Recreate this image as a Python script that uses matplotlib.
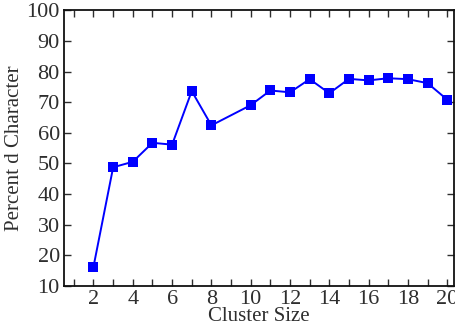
import numpy as np
import matplotlib.pyplot as plt
from matplotlib.ticker import MultipleLocator

# Cluster size vs. percent d character
cluster_size = [2, 3, 4, 5, 6, 7, 8, 10, 11, 12, 13, 14, 15, 16, 17, 18, 19, 20]
percent_d = [16.2, 48.7, 50.5, 56.7, 56.1, 73.6, 62.4, 69.0, 73.8, 73.2,
             77.5, 72.9, 77.6, 77.1, 77.8, 77.5, 76.2, 70.8]

plt.rcParams['font.family'] = 'Liberation Serif'
text_color = '#2e2e2e'

fig = plt.figure(figsize=(4.55, 3.34), dpi=100)
ax = fig.add_axes([0.1407, 0.1446, 0.8573, 0.8245])

ax.plot(cluster_size, percent_d, color='#0000ff', lw=1.4,
        marker='s', markersize=6.5, markeredgewidth=0)

ax.set_xlim(0.5, 20.35)
ax.set_ylim(10, 100)
ax.xaxis.set_major_locator(MultipleLocator(2))
ax.xaxis.set_minor_locator(MultipleLocator(1))
ax.yaxis.set_major_locator(MultipleLocator(10))

ax.tick_params(which='both', direction='in', top=True, right=True,
               labelsize=16, colors=text_color, width=1.0, pad=3)
ax.tick_params(which='both', length=5)
for s in ax.spines.values():
    s.set_linewidth(1.3)
    s.set_color('#111111')

ax.set_xlabel('Cluster Size', fontsize=15, color=text_color, labelpad=-1)
ax.set_ylabel('Percent d Character', fontsize=15, color=text_color, labelpad=2)

fig.savefig('out.png', dpi=100)
